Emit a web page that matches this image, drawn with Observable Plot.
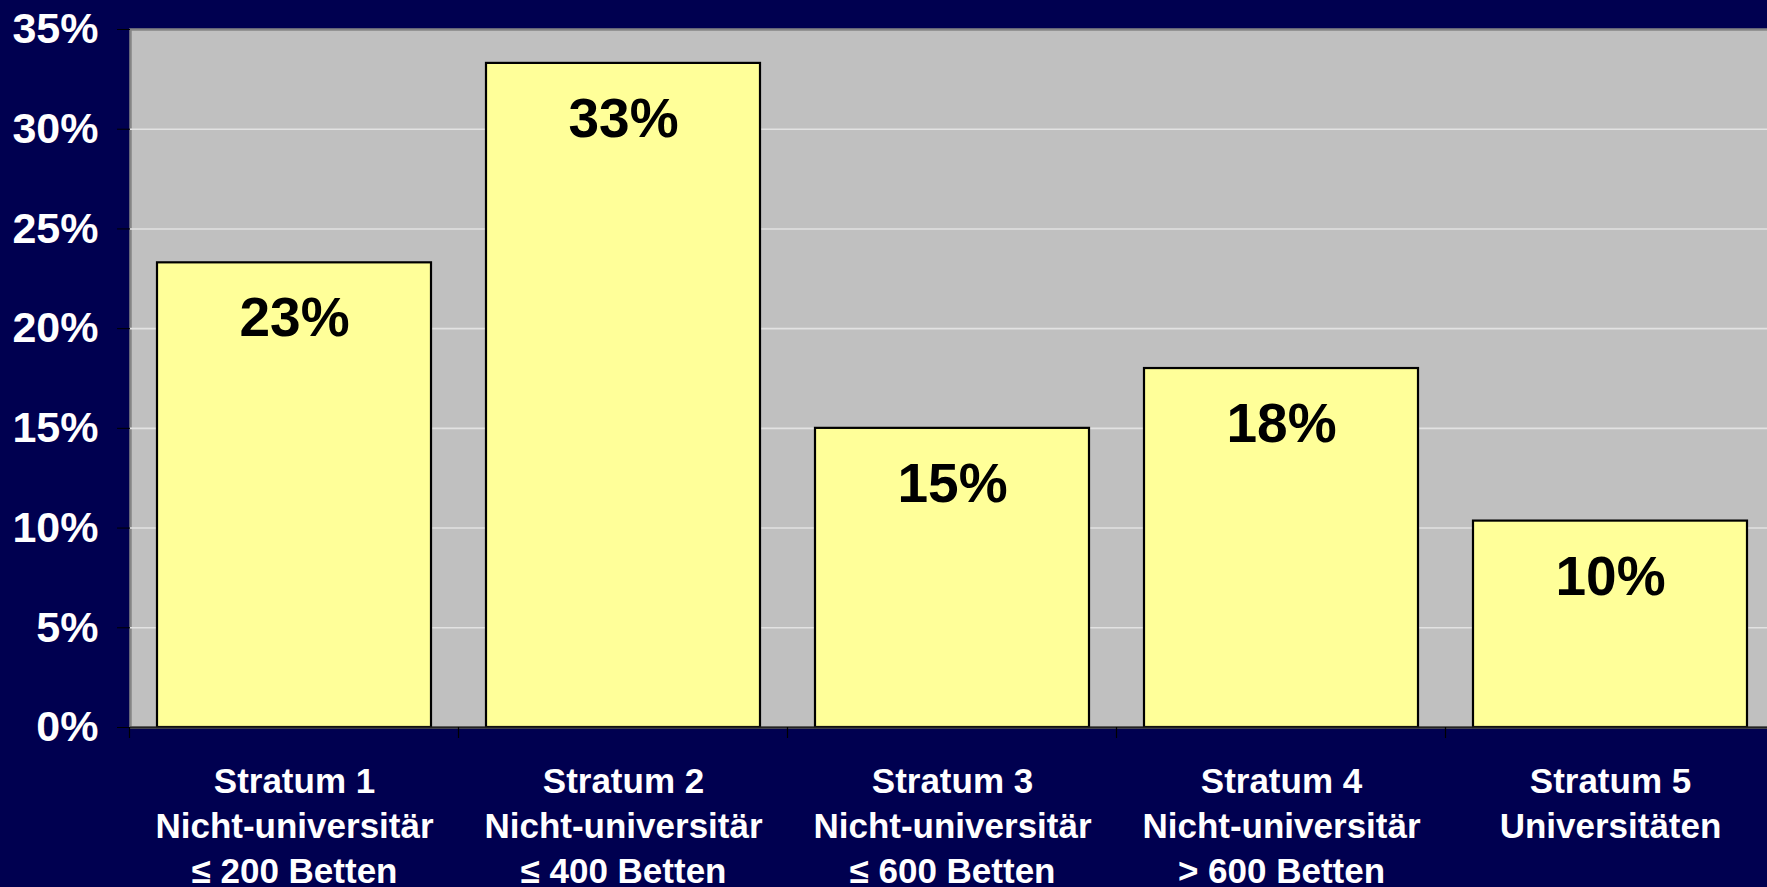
<!DOCTYPE html>
<html>
<head>
<meta charset="utf-8">
<script src="https://cdn.jsdelivr.net/npm/d3@7"></script>
<script src="https://cdn.jsdelivr.net/npm/@observablehq/plot@0.6"></script>
<style>
  html, body { margin: 0; padding: 0; background: #000050; overflow: hidden; }
  #chart svg { display: block; }
</style>
</head>
<body>
<div id="chart"></div>
<script>
const categories = ["Stratum 1", "Stratum 2", "Stratum 3", "Stratum 4", "Stratum 5"];
const categoryLabels = [
  "Stratum 1\nNicht-universitär\n≤ 200 Betten",
  "Stratum 2\nNicht-universitär\n≤ 400 Betten",
  "Stratum 3\nNicht-universitär\n≤ 600 Betten",
  "Stratum 4\nNicht-universitär\n> 600 Betten",
  "Stratum 5\nUniversitäten"
];
const values = [23.3, 33.3, 15.0, 18.0, 10.35];
const yTicks = [0, 5, 10, 15, 20, 25, 30, 35];

const data = categories.map((c, i) => ({category: c, value: values[i], label: categoryLabels[i]}));
const labelOf = new Map(data.map(d => [d.category, d.label]));

const font = "'Liberation Sans', Arial, sans-serif";

const plot = Plot.plot({
  width: 1767,
  height: 887,
  marginLeft: 130,
  marginRight: -7,
  marginTop: 29,
  marginBottom: 160,
  style: {background: "#000050", fontFamily: font, overflow: "hidden"},
  x: {domain: categories, paddingInner: 0.168, paddingOuter: 0.08, axis: null},
  y: {domain: [0, 35], axis: null},
  marks: [
    Plot.frame({fill: "#C0C0C0", stroke: "#858585", strokeWidth: 2.5}),
    Plot.gridY(yTicks.filter(t => t > 0 && t < 35), {stroke: "#E2E2E2", strokeWidth: 1.6, strokeOpacity: 1}),
    Plot.barY(data, {x: "category", y: "value", fill: "#FFFF99", stroke: "#000000", strokeWidth: 2.2}),
    Plot.ruleY([0], {stroke: "#222222", strokeWidth: 2}),
    Plot.text(data, {
      x: "category", y: "value",
      text: d => Math.round(d.value) + "%",
      dy: 56, fontSize: 55, fontWeight: "bold", fill: "#000000", fontFamily: font
    }),
    Plot.axisY({
      ticks: yTicks,
      tickFormat: d => d + "%",
      tickSize: 13,
      tickPadding: 19,
      stroke: "#000000",
      fill: "#FFFFFF",
      fontSize: 43,
      fontWeight: "bold",
      fontFamily: font,
      label: null
    }),
    Plot.axisX({
      tickFormat: d => labelOf.get(d),
      tickSize: 0,
      tickPadding: 33,
      lineAnchor: "top",
      lineHeight: 1.29,
      fill: "#FFFFFF",
      fontSize: 35,
      fontWeight: "bold",
      fontFamily: font,
      label: null
    })
  ]
});

// category boundary ticks on the x axis, positioned from the library's band scale
const xs = plot.scale("x");
const ys = plot.scale("y");
const y0 = ys.apply(0);
const svg = d3.select(plot);
const g = svg.append("g").attr("stroke", "#000000").attr("stroke-width", 1.2);
categories.forEach(c => {
  const left = xs.apply(c) - (xs.step - xs.bandwidth) / 2;
  g.append("line").attr("x1", left).attr("x2", left).attr("y1", y0).attr("y2", y0 + 11);
});
const lastRight = xs.apply(categories[categories.length - 1]) + xs.bandwidth + (xs.step - xs.bandwidth) / 2;
g.append("line").attr("x1", lastRight).attr("x2", lastRight).attr("y1", y0).attr("y2", y0 + 11);

document.getElementById("chart").appendChild(plot);
</script>
</body>
</html>
